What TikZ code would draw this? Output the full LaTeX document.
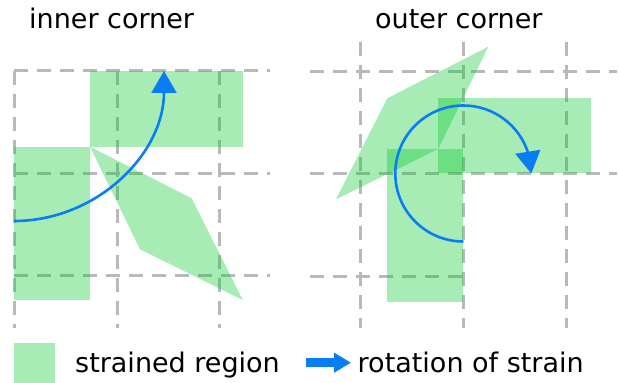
\documentclass[tikz,border=0pt]{standalone}
\usepackage{fontspec}
\setmainfont{DejaVu Sans}
\usetikzlibrary{arrows.meta,bending}
\definecolor{strain}{RGB}{0,200,40}
\definecolor{rotblue}{RGB}{10,125,245}
\definecolor{gridgray}{RGB}{185,185,185}

\begin{document}
\begin{tikzpicture}[
  x=1pt, y=1pt,
  font=\fontsize{27}{32}\selectfont,
  grd/.style={gridgray, line width=3pt, dash pattern=on 14pt off 9pt},
  region/.style={fill=strain, fill opacity=0.35},
  rot/.style={rotblue, line width=2.6pt, -{Triangle[length=22pt, width=25pt, quick]}},
  lbl/.style={anchor=base west, inner sep=0pt},
]
\useasboundingbox (0,0) rectangle (619,383);

% ---- inner corner ---------------------------------------------------------
\node[lbl] (tin) at (29,354.7) {inner corner};
\foreach \x in {14,117,219} \draw[grd] (\x,312) -- (\x,55);
\foreach \y in {312,209.5,107} \draw[grd] (14,\y) -- (270,\y);
\fill[region] (90,312) rectangle (243,236);
\fill[region] (14,236) rectangle (90,83);
\fill[region] (90,236.3) -- (191.7,184.7) -- (242.7,83) -- (140,133.7) -- cycle;
\coordinate (ic) at (14,312);
\draw[rot] ([shift={(-90:150)}]ic) arc[start angle=-90, end angle=0, radius=150];

% ---- outer corner ---------------------------------------------------------
\node[lbl] (tout) at (375,354.7) {outer corner};
\foreach \x in {360,463.3,566} \draw[grd] (\x,341.3) -- (\x,55);
\foreach \y in {311,209.5} \draw[grd] (310,\y) -- (617,\y);
\draw[grd] (310,106.3) -- (463.3,106.3);
\fill[region] (387.3,234) rectangle (463.3,80.7);
\fill[region] (438.3,284.7) rectangle (591,209.7);
\fill[region] (488.3,336.3) -- (387.3,284.7) -- (336,183.7) -- (438.3,234) -- cycle;
\coordinate (oc) at (463.3,209.5);
\draw[rot, -{Triangle[length=22pt, width=25pt, flex]}]
  ([shift={(270:68)}]oc) arc[start angle=270, end angle=0, radius=68];

% ---- legend ---------------------------------------------------------------
\fill[region] (14,0) rectangle (55,39.7);
\node[lbl] (lreg) at (75,10.3) {strained region};
\coordinate (la) at (306,20.3);
\coordinate (lb) at (351,20.3);
\draw[rotblue, line width=9pt, -{Triangle[length=17pt, width=19pt]}] (la) -- (lb);
\node[lbl] (lrot) at (357.5,10.3) {rotation of strain};

\end{tikzpicture}
\end{document}
